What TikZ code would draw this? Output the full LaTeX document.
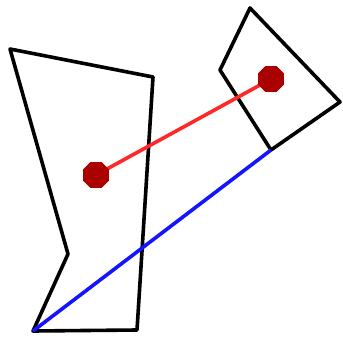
\documentclass[tikz,border=0pt]{standalone}
\usetikzlibrary{shapes.geometric}
\definecolor{dotred}{RGB}{170,0,0}
\definecolor{linered}{RGB}{255,40,40}
\definecolor{lineblue}{RGB}{20,20,255}
\tikzset{
  poly/.style={draw=black, line width=3.6pt, line join=round, line cap=round},
  dot/.style={regular polygon, regular polygon sides=8, fill=dotred, inner sep=0pt, minimum size=28pt, draw=none},
  seg/.style={line width=3.6pt}
}
\begin{document}
\begin{tikzpicture}[x=1pt,y=-1pt]
\useasboundingbox (0,0) rectangle (343,338);
\draw[poly] (10,49) -- (153,77) -- (137,330) -- (33,331) -- (68,254) -- cycle;
\draw[poly] (250,8) -- (340,102) -- (271,150) -- (220,70) -- cycle;
\coordinate (bl) at (33,331);
\coordinate (br) at (271,150);
\node[dot] (d1) at (96,175) {};
\node[dot] (d2) at (271,79) {};
\draw[seg, lineblue] (bl) -- (br);
\draw[seg, linered] (d1.center) -- (d2.center);
\node[dot] at (d1) {};
\node[dot] at (d2) {};
\end{tikzpicture}
\end{document}
